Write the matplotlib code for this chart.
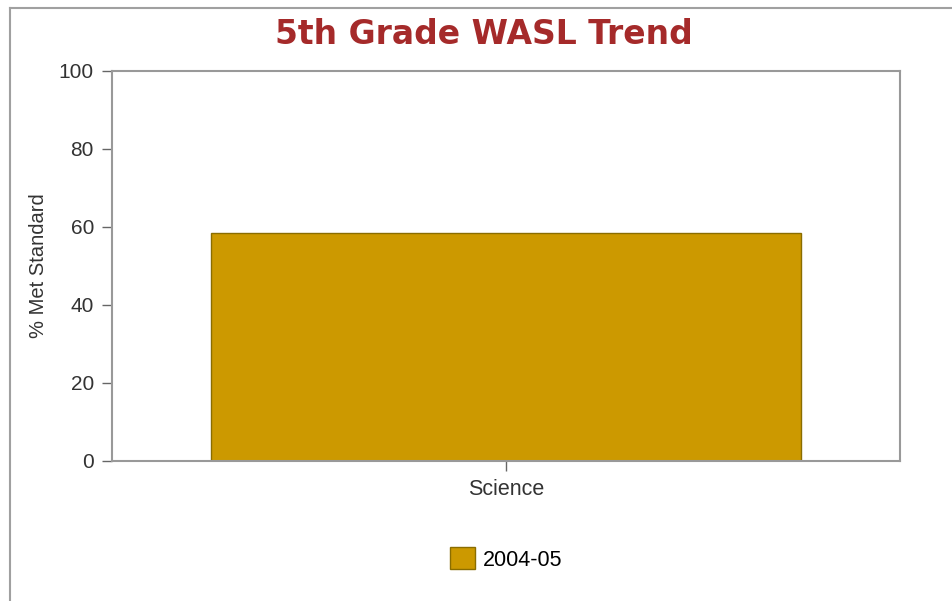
import matplotlib
matplotlib.use("Agg")
import matplotlib.pyplot as plt
from matplotlib.lines import Line2D
from matplotlib.patches import Patch

subjects = ["Science"]
years = ["2004-05"]
met_standard = [58.5]
colors = ["#cc9900"]

W, H = 953, 601
fig = plt.figure(figsize=(W / 100, H / 100), dpi=100)
plt.rcParams["font.family"] = ["Liberation Sans", "DejaVu Sans"]

# outer frame lines (top and left)
fig.add_artist(Line2D([10 / W, 1], [1 - 8 / H, 1 - 8 / H], color="#a0a0a0", lw=1.5))
fig.add_artist(Line2D([10 / W, 10 / W], [0, 1 - 8 / H], color="#a0a0a0", lw=1.5))

ax = fig.add_axes([112 / W, 1 - 461 / H, (900 - 112) / W, (461 - 71) / H])
ax.bar(range(len(subjects)), met_standard, width=0.748, color=colors[0],
       edgecolor="#8a6d00", linewidth=1, label=years[0])
ax.set_xlim(-0.5, 0.5)
ax.set_ylim(0, 100)
ax.set_yticks([0, 20, 40, 60, 80, 100])
ax.set_xticks(range(len(subjects)))
ax.set_xticklabels(subjects)
for s in ax.spines.values():
    s.set_color("#999999")
    s.set_linewidth(1.5)
ax.tick_params(axis="both", colors="#666666", labelcolor="#333333", length=7, width=1)
ax.tick_params(axis="y", pad=6, labelsize=15)
ax.tick_params(axis="x", pad=6, labelsize=15.5)
ax.set_ylabel("% Met Standard", fontsize=14.5, color="#333333", labelpad=8)

fig.text(484 / W, 1 - 34 / H, "5th Grade WASL Trend", ha="center", va="center",
         fontsize=23.8, fontweight="bold", color="#a52a2a", family="DejaVu Sans")

handles = [Patch(facecolor=colors[0], edgecolor="#8a6d00", label=years[0])]
fig.legend(handles=handles, loc="center", bbox_to_anchor=(506 / W, 1 - 559 / H),
           frameon=False, fontsize=15.5, handlelength=1.2, handleheight=1.2,
           handletextpad=0.35)

fig.savefig("out.png", dpi=100)
